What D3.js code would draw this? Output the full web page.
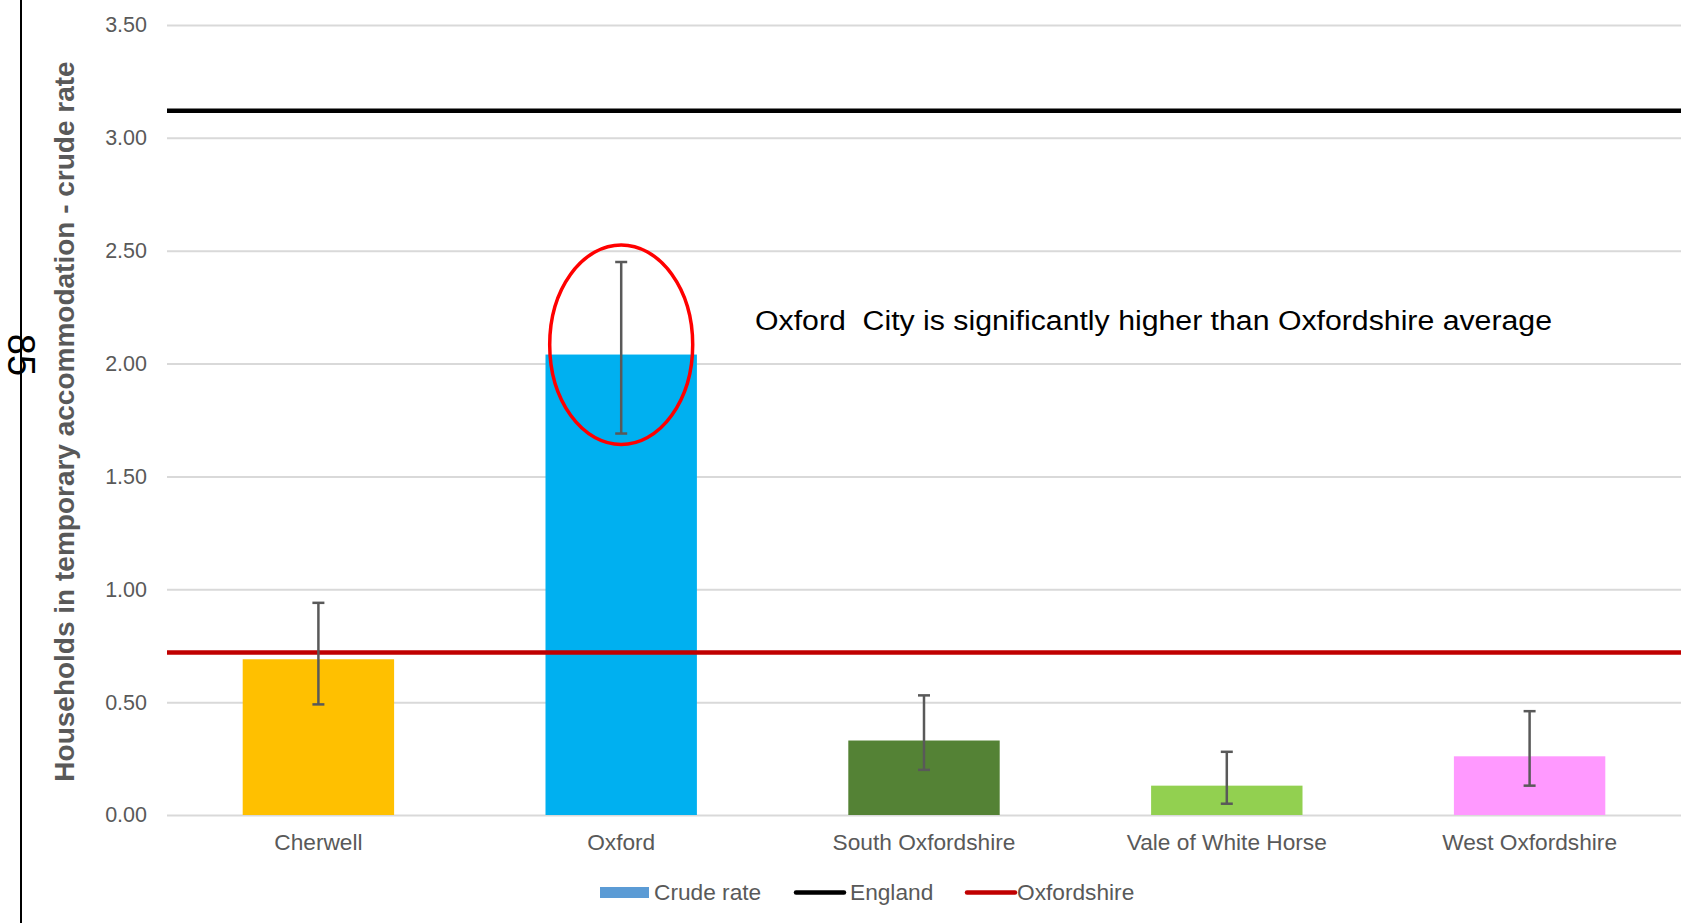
<!DOCTYPE html>
<html>
<head>
<meta charset="utf-8">
<script src="https://cdn.jsdelivr.net/npm/d3@7"></script>
<style>
  html, body { margin: 0; padding: 0; background: #fff; }
  svg { display: block; font-family: "Liberation Sans", Arial, sans-serif; }
</style>
</head>
<body>
<svg id="chart" width="1690" height="923"></svg>
<script>
// ---- Data ----
const categories = ["Cherwell", "Oxford", "South Oxfordshire", "Vale of White Horse", "West Oxfordshire"];
const crudeRate = [0.69, 2.04, 0.33, 0.13, 0.26];
const lowerCI = [0.49, 1.69, 0.20, 0.05, 0.13];
const upperCI = [0.94, 2.45, 0.53, 0.28, 0.46];
const englandValue = 3.12;
const oxfordshireValue = 0.72;
const yTicks = [0, 0.5, 1.0, 1.5, 2.0, 2.5, 3.0, 3.5];
const barColors = ["#FFC000", "#00B0F0", "#548235", "#92D050", "#FF99FF"];
const legendLabels = ["Crude rate", "England", "Oxfordshire"];
const yTitle = "Households in temporary accommodation - crude rate";
const annotationText = "Oxford  City is significantly higher than Oxfordshire average";
const pageNumber = "85";

// ---- Layout ----
const svg = d3.select("#chart");
const plot = { left: 167, right: 1681, top: 25, bottom: 815 };
const grey = "#595959";

const x = d3.scaleBand().domain(categories).range([plot.left, plot.right])
  .paddingInner(0.5).paddingOuter(0.25);
const y = d3.scaleLinear().domain([0, 3.5]).range([plot.bottom, plot.top]);

// page border line and page number
svg.append("line").attr("x1", 21).attr("x2", 21).attr("y1", 0).attr("y2", 923)
  .attr("stroke", "#000").attr("stroke-width", 2);
svg.append("text").text(pageNumber)
  .attr("transform", "translate(8,355) rotate(90)")
  .attr("text-anchor", "middle").attr("font-size", 38).attr("fill", "#000");

// gridlines + y axis labels
const yAxis = d3.axisLeft(y).tickValues(yTicks).tickFormat(d3.format(".2f"))
  .tickSize(-(plot.right - plot.left)).tickPadding(20);
const gy = svg.append("g").attr("transform", `translate(${plot.left},0)`).call(yAxis);
gy.select(".domain").remove();
gy.selectAll(".tick line").attr("stroke", "#D9D9D9").attr("stroke-width", 2);
gy.selectAll(".tick text").attr("fill", grey).attr("font-size", 21.5)
  .attr("font-family", "Liberation Sans, Arial, sans-serif");

// bars
svg.append("g").selectAll("rect").data(categories).join("rect")
  .attr("x", d => x(d))
  .attr("width", x.bandwidth())
  .attr("y", (d, i) => y(crudeRate[i]))
  .attr("height", (d, i) => y(0) - y(crudeRate[i]))
  .attr("fill", (d, i) => barColors[i]);

// reference lines
svg.append("line").attr("x1", plot.left).attr("x2", plot.right)
  .attr("y1", y(englandValue)).attr("y2", y(englandValue))
  .attr("stroke", "#000").attr("stroke-width", 4.5);
svg.append("line").attr("x1", plot.left).attr("x2", plot.right)
  .attr("y1", y(oxfordshireValue)).attr("y2", y(oxfordshireValue))
  .attr("stroke", "#C00000").attr("stroke-width", 4.5);

// error bars
const eb = svg.append("g").attr("stroke", grey).attr("stroke-width", 2.5);
categories.forEach((c, i) => {
  const cx = x(c) + x.bandwidth() / 2;
  eb.append("line").attr("x1", cx).attr("x2", cx).attr("y1", y(upperCI[i])).attr("y2", y(lowerCI[i]));
  eb.append("line").attr("x1", cx - 6).attr("x2", cx + 6).attr("y1", y(upperCI[i])).attr("y2", y(upperCI[i]));
  eb.append("line").attr("x1", cx - 6).attr("x2", cx + 6).attr("y1", y(lowerCI[i])).attr("y2", y(lowerCI[i]));
});

// x axis labels
svg.append("g").selectAll("text").data(categories).join("text")
  .attr("x", d => x(d) + x.bandwidth() / 2)
  .attr("y", 850)
  .attr("text-anchor", "middle")
  .attr("font-size", 22.7)
  .attr("fill", grey)
  .text(d => d);

// y axis title
svg.append("text").text(yTitle)
  .attr("transform", `translate(74,${(60 + 783) / 2}) rotate(-90)`)
  .attr("text-anchor", "middle").attr("font-size", 28).attr("font-weight", "bold")
  .attr("fill", grey);

// highlight ellipse around Oxford
const oxIdx = categories.indexOf("Oxford");
const oxCx = x("Oxford") + x.bandwidth() / 2;
const midCI = (upperCI[oxIdx] + lowerCI[oxIdx]) / 2;
svg.append("ellipse")
  .attr("cx", oxCx)
  .attr("cy", y(midCI) - 3)
  .attr("rx", 71.5)
  .attr("ry", (y(lowerCI[oxIdx]) - y(upperCI[oxIdx])) / 2 + 14)
  .attr("fill", "none").attr("stroke", "#FF0000").attr("stroke-width", 3.5);

// annotation
svg.append("text").text(annotationText)
  .attr("x", 755).attr("y", 330)
  .attr("font-size", 27).attr("fill", "#000")
  .attr("textLength", 797).attr("lengthAdjust", "spacingAndGlyphs")
  .style("white-space", "pre");

// legend
const lg = svg.append("g").attr("font-size", 22.7).attr("fill", grey);
lg.append("rect").attr("x", 600).attr("y", 887).attr("width", 49).attr("height", 11).attr("fill", "#5B9BD5");
lg.append("text").attr("x", 654).attr("y", 900).text(legendLabels[0]);
lg.append("line").attr("x1", 796).attr("x2", 844).attr("y1", 892.5).attr("y2", 892.5)
  .attr("stroke", "#000").attr("stroke-width", 4.5).attr("stroke-linecap", "round");
lg.append("text").attr("x", 850).attr("y", 900).text(legendLabels[1]);
lg.append("line").attr("x1", 967).attr("x2", 1015).attr("y1", 892.5).attr("y2", 892.5)
  .attr("stroke", "#C00000").attr("stroke-width", 4.5).attr("stroke-linecap", "round");
lg.append("text").attr("x", 1017).attr("y", 900).text(legendLabels[2]);
</script>
</body>
</html>
